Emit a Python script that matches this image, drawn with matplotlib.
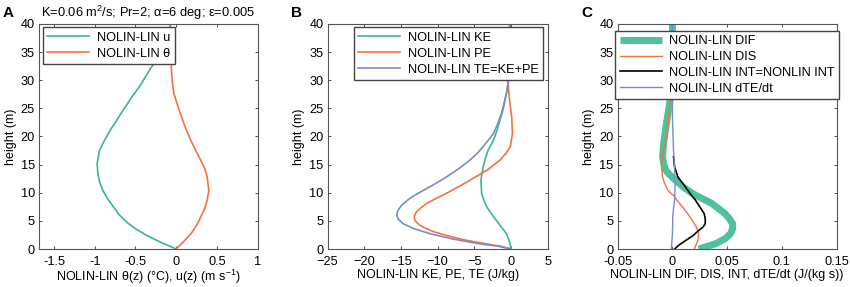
import matplotlib
matplotlib.use('Agg')
import matplotlib.pyplot as plt

plt.rcParams['font.family'] = ['Liberation Sans', 'DejaVu Sans']
plt.rcParams['font.size'] = 9
plt.rcParams['mathtext.fontset'] = 'custom'
plt.rcParams['mathtext.rm'] = 'Liberation Sans'

# panel A: velocity and temperature anomaly
z_u = [0, 1.2, 2.4, 3.6, 4.8, 6.1, 7.5, 8.9, 10.4, 11.9, 13.4, 15.2, 17.6, 19.3, 21.1, 22.9,
       24.7, 26.9, 29.1, 30.8, 32.4, 34.8, 37.2, 40]
u = [0, -0.19, -0.36, -0.50, -0.61, -0.70, -0.77, -0.84, -0.90, -0.94, -0.96, -0.97, -0.94,
     -0.88, -0.81, -0.73, -0.65, -0.55, -0.44, -0.37, -0.30, -0.19, -0.11, -0.07]
z_th = [0, 1.3, 2.7, 4.2, 5.7, 7.2, 8.7, 10.4, 12.8, 14.3, 15.8, 17.5, 19.3, 21.7, 24.1, 25.9,
        27.7, 30.0, 32.4, 36.0, 40]
theta = [0, 0.09, 0.18, 0.25, 0.30, 0.35, 0.38, 0.40, 0.38, 0.35, 0.30, 0.24, 0.18, 0.11,
         0.05, 0.01, -0.03, -0.05, -0.06, -0.07, -0.07]

# panel B: energies
z_ke = [0, 1.3, 2.7, 3.9, 5.1, 6.3, 7.5, 8.7, 9.9, 12.2, 14.6, 16.1, 17.6, 19.3, 21.1, 22.9,
        24.7, 26.5, 29.4, 33.0, 40]
ke = [0, -0.2, -0.6, -1.3, -2.0, -2.7, -3.3, -3.7, -4.0, -4.1, -3.8, -3.5, -3.1, -2.4, -1.9,
      -1.5, -1.1, -0.8, -0.4, -0.2, -0.1]
z_pe = [0, 0.5, 0.9, 1.6, 2.4, 3.1, 3.9, 4.5, 5.1, 5.8, 6.6, 7.3, 8.1, 9.0, 9.9, 10.9, 11.9,
        13.0, 14.0, 15.8, 17.0, 18.2, 20.5, 23.5, 26.5, 29.4, 40]
pe = [0, -1.4, -3.3, -6.3, -8.8, -10.6, -12.0, -12.7, -13.1, -13.2, -12.9, -12.3, -11.5,
      -10.2, -8.8, -7.4, -6.0, -4.6, -3.3, -1.5, -0.7, -0.1, 0.2, 0.1, -0.2, -0.4, -0.2]
z_te = [0, 0.5, 0.9, 1.8, 2.7, 3.6, 4.5, 5.2, 6.0, 6.9, 7.8, 9.0, 10.1, 11.4, 12.8, 14.3,
        15.8, 17.0, 18.2, 20.5, 22.3, 24.1, 27.7, 29.4, 33.0, 40]
te = [0, -1.8, -4.2, -8.0, -11.0, -13.2, -14.7, -15.3, -15.6, -15.4, -14.9, -13.8, -12.4,
      -10.6, -8.8, -7.1, -5.6, -4.6, -3.8, -2.4, -1.8, -1.3, -0.6, -0.4, -0.2, -0.1]

# panel C: budget terms
z_dif = [0, 0.9, 1.8, 2.7, 3.6, 4.5, 5.4, 6.3, 7.2, 8.1, 9.0, 9.9, 11.0, 12.2, 13.1, 14.0,
         15.2, 16.4, 18.8, 21.7, 25.3, 28.2, 33.0, 40]
dif = [0.024, 0.039, 0.048, 0.053, 0.055, 0.055, 0.052, 0.048, 0.042, 0.036, 0.027, 0.018,
       0.010, 0.003, -0.002, -0.006, -0.008, -0.009, -0.008, -0.006, -0.003, -0.001, 0, 0]
z_dis = [0, 1.4, 2.7, 3.9, 5.1, 6.3, 7.5, 8.7, 9.5, 10.4, 11.6, 12.8, 14.6, 17.0, 19.3, 22.3,
         26.5, 33.0, 40]
dis = [0.020, 0.023, 0.024, 0.022, 0.018, 0.014, 0.009, 0.004, 0.001, -0.004, -0.007,
       -0.009, -0.010, -0.009, -0.006, -0.004, -0.002, -0.001, 0]
z_int = [0, 0.7, 1.5, 2.4, 3.3, 3.9, 4.5, 5.4, 6.3, 7.5, 8.7, 9.9, 11.0, 12.8, 14.6, 16.4]
intr = [0.002, 0.006, 0.012, 0.019, 0.024, 0.028, 0.030, 0.030, 0.029, 0.025, 0.021, 0.016,
        0.012, 0.005, 0.002, 0.001]
z_dte = [0, 1.3, 2.7, 4.2, 5.7, 7.2, 8.7, 11.0, 14.6, 17.6, 23.5, 40]
dte = [-0.001, -0.0005, 0, 0.0002, 0.0003, 0.001, 0.002, 0.0024, 0.002, 0.001, 0, 0]

green = '#3cb68f'
orange = '#f2733f'
blue = '#7b8bc6'

fig = plt.figure(figsize=(8.5, 2.87), dpi=100)
axA = fig.add_axes([0.0462, 0.1324, 0.257, 0.784])
axB = fig.add_axes([0.3855, 0.1324, 0.2588, 0.784])
axC = fig.add_axes([0.7267, 0.1324, 0.2575, 0.784])

leg_kw = dict(fontsize=9.2, handlelength=3.3, borderaxespad=0, fancybox=False,
              edgecolor='#444444', framealpha=1, labelspacing=0.3, handletextpad=0.6,
              borderpad=0.35)

axA.plot(u, z_u, color=green, lw=1.2, label='NOLIN-LIN u')
axA.plot(theta, z_th, color=orange, lw=1.2, label='NOLIN-LIN θ')
axA.set_xlim(-1.68, 1)
axA.set_xticks([-1.5, -1, -0.5, 0, 0.5, 1])
axA.set_xticklabels(['-1.5', '-1', '-0.5', '0', '0.5', '1'])
axA.set_xlabel('NOLIN-LIN θ(z) (°C), u(z) (m s$^{-1}$)', labelpad=0)
axA.set_title('K=0.06 m$^2$/s; Pr=2; α=6 deg; ε=0.005', fontsize=9.3, pad=5)
axA.legend(loc='upper left', bbox_to_anchor=(0.015, 0.985), **leg_kw)

axB.plot(ke, z_ke, color=green, lw=1.2, label='NOLIN-LIN KE')
axB.plot(pe, z_pe, color=orange, lw=1.2, label='NOLIN-LIN PE')
axB.plot(te, z_te, color=blue, lw=1.2, label='NOLIN-LIN TE=KE+PE')
axB.set_xlim(-25, 5)
axB.set_xticks([-25, -20, -15, -10, -5, 0, 5])
axB.set_xlabel('NOLIN-LIN KE, PE, TE (J/kg)', labelpad=1)
axB.legend(loc='upper right', bbox_to_anchor=(0.98, 0.985), **leg_kw)

axC.plot(dif, z_dif, color='#4fc29b', lw=5, solid_capstyle='butt', label='NOLIN-LIN DIF')
axC.plot(dis, z_dis, color=orange, lw=1.0, label='NOLIN-LIN DIS')
axC.plot(intr, z_int, color='black', lw=1.2, label='NOLIN-LIN INT=NONLIN INT')
axC.plot(dte, z_dte, color=blue, lw=1.0, label='NOLIN-LIN dTE/dt')
axC.set_xlim(-0.05, 0.15)
axC.set_xticks([-0.05, 0, 0.05, 0.1, 0.15])
axC.set_xticklabels(['-0.05', '0', '0.05', '0.1', '0.15'])
axC.set_xlabel('NOLIN-LIN DIF, DIS, INT, dTE/dt (J/(kg s))', labelpad=1)
axC.legend(loc='upper left', bbox_to_anchor=(-0.012, 0.97), **leg_kw)

for ax in (axA, axB, axC):
    ax.set_ylim(0, 40)
    ax.set_yticks(range(0, 41, 5))
    ax.set_ylabel('height (m)', labelpad=3)
    ax.tick_params(direction='in', length=2.5, width=0.6, top=True, right=True,
                   labelsize=9.2, colors='#333333', labelcolor='black')
    ax.tick_params(axis='x', pad=5)
    ax.tick_params(axis='y', pad=3)
    for s in ax.spines.values():
        s.set_color('#555555')
        s.set_linewidth(0.8)

for ax, letter in zip((axA, axB, axC), 'ABC'):
    x0 = ax.get_position().x0
    fig.text(x0 - 0.043, 0.955, letter, fontsize=11, fontweight='bold', va='center')

fig.savefig('out.png', dpi=100)
